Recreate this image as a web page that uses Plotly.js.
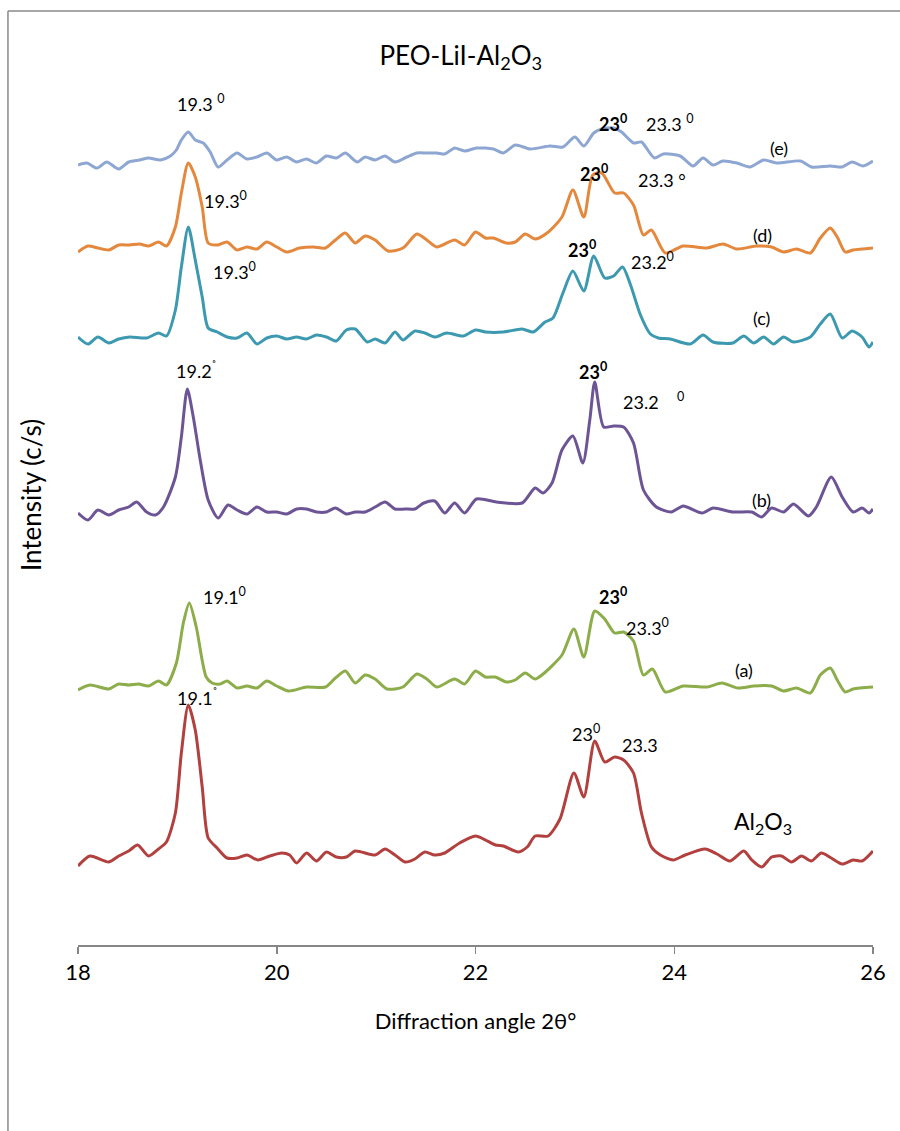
<!DOCTYPE html>
<html>
<head>
<meta charset="utf-8">
<script src="https://cdn.plot.ly/plotly-3.0.1.min.js"></script>
<style>html,body{margin:0;padding:0;background:#fff;}#chart{width:900px;height:1131px;}</style>
</head>
<body>
<div id="chart"></div>
<script>
// Diffraction angle 2θ (degrees) and intensity (arbitrary, stacked offsets) for each sample
const theta_e = [18.00,18.09,18.19,18.29,18.41,18.51,18.62,18.71,18.83,18.93,18.99,19.04,19.11,19.18,19.26,19.33,19.41,19.50,19.60,19.70,19.80,19.90,20.00,20.10,20.20,20.30,20.40,20.50,20.60,20.69,20.81,20.89,20.99,21.09,21.19,21.31,21.41,21.51,21.61,21.69,21.74,21.79,21.89,22.01,22.18,22.28,22.40,22.55,22.75,22.88,23.00,23.09,23.19,23.27,23.39,23.47,23.59,23.67,23.80,23.89,24.06,24.19,24.29,24.39,24.49,24.63,24.76,24.90,25.03,25.27,25.38,25.57,25.69,25.79,25.90,26.00];
const int_e = [780,782,777,783,776,783,785,787,785,789,795,805,813,805,802,793,778,785,792,786,788,792,785,788,783,786,782,789,787,792,783,788,785,789,783,788,792,792,792,791,794,797,794,797,796,792,800,796,799,798,808,799,812,816,817,813,802,803,787,791,789,779,787,780,784,782,778,785,782,784,778,779,778,783,779,784];

const theta_d = [18.00,18.10,18.20,18.31,18.41,18.52,18.62,18.71,18.81,18.89,18.98,19.04,19.11,19.18,19.25,19.31,19.40,19.50,19.60,19.70,19.80,19.90,20.00,20.10,20.23,20.37,20.49,20.59,20.69,20.79,20.89,20.99,21.12,21.27,21.41,21.51,21.61,21.79,21.89,22.00,22.10,22.18,22.31,22.40,22.50,22.60,22.72,22.87,22.98,23.09,23.18,23.27,23.40,23.49,23.59,23.69,23.77,23.91,24.09,24.33,24.49,24.63,24.83,24.98,25.10,25.23,25.37,25.47,25.57,25.64,25.72,25.80,26.00];
const int_d = [693,699,697,695,700,700,701,699,703,699,718,752,782,768,738,702,700,703,695,698,696,703,698,693,697,698,697,705,712,702,709,705,694,697,711,705,698,705,700,713,707,707,702,703,711,706,712,728,755,728,770,772,752,752,740,710,715,692,699,697,701,696,699,698,693,696,692,707,717,708,693,695,697];

const theta_c = [18.00,18.10,18.20,18.31,18.41,18.52,18.69,18.81,18.89,18.98,19.04,19.11,19.18,19.25,19.31,19.40,19.50,19.60,19.70,19.80,19.90,20.00,20.10,20.20,20.30,20.40,20.50,20.60,20.70,20.79,20.91,20.99,21.09,21.19,21.27,21.39,21.49,21.59,21.71,21.88,22.00,22.10,22.28,22.47,22.58,22.70,22.78,22.88,22.98,23.09,23.19,23.30,23.39,23.48,23.56,23.66,23.76,23.84,23.96,24.16,24.29,24.39,24.59,24.70,24.80,24.90,25.00,25.10,25.20,25.37,25.47,25.57,25.69,25.79,25.89,25.96,26.00];
const int_c = [608,601,608,602,606,608,607,612,609,635,678,718,685,648,617,613,608,607,612,601,607,609,606,608,606,610,608,604,615,616,603,606,602,613,605,614,612,608,612,609,615,613,613,616,613,623,627,652,674,654,689,667,669,678,660,630,611,607,606,601,610,603,602,609,602,608,601,608,603,608,621,631,607,614,608,598,603];

const theta_b = [18.00,18.10,18.20,18.31,18.41,18.51,18.59,18.69,18.78,18.86,18.98,19.04,19.10,19.16,19.23,19.31,19.41,19.51,19.60,19.70,19.80,19.90,20.00,20.10,20.20,20.30,20.40,20.50,20.59,20.70,20.79,20.89,20.99,21.09,21.19,21.29,21.39,21.48,21.59,21.69,21.79,21.89,22.01,22.21,22.47,22.60,22.68,22.77,22.87,22.98,23.08,23.15,23.20,23.29,23.39,23.49,23.59,23.69,23.82,23.97,24.09,24.28,24.39,24.59,24.78,24.88,24.98,25.10,25.20,25.35,25.43,25.58,25.69,25.80,25.89,25.96,26.00];
const int_b = [432,425,435,430,435,438,443,433,430,438,468,508,556,528,485,445,427,440,435,431,438,433,433,431,436,436,433,433,437,431,433,433,438,443,436,436,436,442,444,432,442,432,446,443,442,457,452,462,495,509,482,525,563,518,519,518,502,455,438,433,439,432,437,433,433,428,437,433,441,429,438,468,448,433,437,432,436];

const theta_a = [18.00,18.12,18.31,18.41,18.51,18.61,18.71,18.81,18.89,18.99,19.06,19.12,19.19,19.29,19.35,19.43,19.50,19.60,19.70,19.80,19.90,20.00,20.12,20.30,20.49,20.59,20.69,20.79,20.89,20.99,21.11,21.27,21.41,21.51,21.61,21.79,21.89,22.00,22.10,22.20,22.31,22.40,22.50,22.60,22.68,22.87,22.99,23.09,23.20,23.30,23.40,23.49,23.59,23.69,23.78,23.91,24.09,24.33,24.48,24.64,24.80,24.98,25.10,25.23,25.37,25.47,25.57,25.64,25.72,25.80,26.00];
const int_a = [255,260,256,261,260,261,259,264,260,282,322,342,318,268,262,261,264,257,259,257,264,259,254,258,258,267,274,262,270,266,256,258,271,266,258,266,261,274,268,268,263,265,272,266,271,290,316,288,334,326,312,313,304,270,276,253,259,258,262,257,259,259,254,257,252,270,277,265,253,256,258];

const theta_al = [18.00,18.12,18.31,18.41,18.51,18.60,18.71,18.81,18.89,18.98,19.04,19.11,19.18,19.25,19.31,19.40,19.50,19.60,19.70,19.81,19.93,20.05,20.13,20.20,20.30,20.40,20.50,20.60,20.70,20.79,20.99,21.09,21.19,21.29,21.39,21.49,21.59,21.69,21.84,22.00,22.10,22.20,22.28,22.43,22.52,22.60,22.73,22.85,22.99,23.09,23.20,23.30,23.40,23.49,23.59,23.67,23.77,23.86,23.99,24.11,24.31,24.43,24.56,24.70,24.78,24.88,24.98,25.08,25.18,25.28,25.38,25.48,25.58,25.69,25.80,25.89,26.00];
const int_al = [79,89,83,89,94,100,89,96,103,132,192,240,215,158,107,97,87,87,90,85,89,92,90,82,92,84,93,88,88,94,90,96,90,83,86,93,90,92,102,109,105,100,99,93,98,109,109,126,172,148,204,183,188,185,172,132,98,90,85,90,96,91,84,94,85,78,88,89,83,89,84,92,87,81,85,84,94];

const seriesNames = ['(e)','(d)','(c)','(b)','(a)','Al2O3'];
const xTicks = [18,20,22,24,26];

const series = [
  {x: theta_e, y: int_e, color: '#8EA6D2'},
  {x: theta_d, y: int_d, color: '#E3883D'},
  {x: theta_c, y: int_c, color: '#3C99AF'},
  {x: theta_b, y: int_b, color: '#6D5595'},
  {x: theta_a, y: int_a, color: '#8CAD4A'},
  {x: theta_al, y: int_al, color: '#B2403E'}
];

const traces = series.map((s, i) => ({
  type: 'scatter', mode: 'lines', name: seriesNames[i],
  x: s.x, y: s.y,
  line: {color: s.color, width: 3, shape: 'spline', smoothing: 0.7},
  hoverinfo: 'skip'
}));

const F = 'Lato, "Open Sans", sans-serif';
function ann(text, x, y, opts) {
  return Object.assign({text: text, x: x, y: y, xref: 'x', yref: 'y', showarrow: false,
    xanchor: 'center', yanchor: 'middle', font: {family: F, size: 18, color: '#000'}}, opts || {});
}

const annotations = [
  ann('19.3 <sup>0</sup>', 19.24, 842),
  ann('19.3<sup>0</sup>', 19.48, 745),
  ann('19.3<sup>0</sup>', 19.57, 674),
  ann('19.2<sup>˚</sup>', 19.19, 575),
  ann('19.1<sup>0</sup>', 19.47, 349),
  ann('19.1<sup>˚</sup>', 19.20, 248),
  ann('<b>23<sup>0</sup></b>', 23.38, 822),
  ann('23.3 <sup>0</sup>', 23.96, 822),
  ann('(e)', 25.05, 797),
  ann('<b>23<sup>0</sup></b>', 23.19, 772),
  ann('23.3 °', 23.88, 765),
  ann('(d)', 24.89, 710),
  ann('<b>23<sup>0</sup></b>', 23.07, 696),
  ann('23.2<sup>0</sup>', 23.78, 684),
  ann('(c)', 24.88, 627),
  ann('<b>23<sup>0</sup></b>', 23.18, 574),
  ann('23.2&nbsp;&nbsp;&nbsp;&nbsp;<sup>0</sup>', 23.79, 544),
  ann('(b)', 24.88, 445),
  ann('<b>23<sup>0</sup></b>', 23.38, 349),
  ann('23.3<sup>0</sup>', 23.73, 318),
  ann('(a)', 24.70, 275),
  ann('23<sup>0</sup>', 23.11, 212),
  ann('23.3', 23.66, 200),
  ann('Al<sub>2</sub>O<sub>3</sub>', 24.89, 123, {font: {family: F, size: 23, color: '#000'}})
];

const frameColor = '#8a8a8a';
const layout = {
  width: 900, height: 1131,
  margin: {l: 78, r: 27, t: 45, b: 186, pad: 0},
  paper_bgcolor: '#fff', plot_bgcolor: '#fff',
  showlegend: false,
  font: {family: F, color: '#000'},
  title: {
    text: 'PEO-LiI-Al<sub>2</sub>O<sub>3</sub>',
    font: {family: F, size: 26, color: '#000'},
    xref: 'container', yref: 'container',
    x: 0.512, xanchor: 'center', y: 0.951, yanchor: 'middle'
  },
  xaxis: {
    range: [18, 26], tickvals: xTicks, ticktext: xTicks.map(String),
    ticks: 'outside', ticklen: 7, tickwidth: 1.5, tickcolor: '#868686',
    showline: true, linecolor: '#868686', linewidth: 1.5,
    showgrid: false, zeroline: false,
    tickfont: {family: F, size: 22, color: '#000'},
    title: {text: 'Diffraction angle 2θ°', font: {family: F, size: 22, color: '#000'}, standoff: 29}
  },
  yaxis: {
    range: [0, 900], showticklabels: false, showline: false, ticks: '',
    showgrid: false, zeroline: false,
    title: {text: 'Intensity (c/s)', font: {family: F, size: 26, color: '#000'}, standoff: 27}
  },
  annotations: annotations,
  shapes: [
    {type: 'line', xref: 'paper', yref: 'paper', x0: -0.0881, x1: 1.06, y0: 1.0378, y1: 1.0378,
     line: {color: frameColor, width: 1.5}},
    {type: 'line', xref: 'paper', yref: 'paper', x0: -0.0881, x1: -0.0881, y0: 1.0378, y1: -0.21,
     line: {color: frameColor, width: 1.5}}
  ]
};

Plotly.newPlot('chart', traces, layout, {staticPlot: true, displayModeBar: false});
</script>
</body>
</html>
